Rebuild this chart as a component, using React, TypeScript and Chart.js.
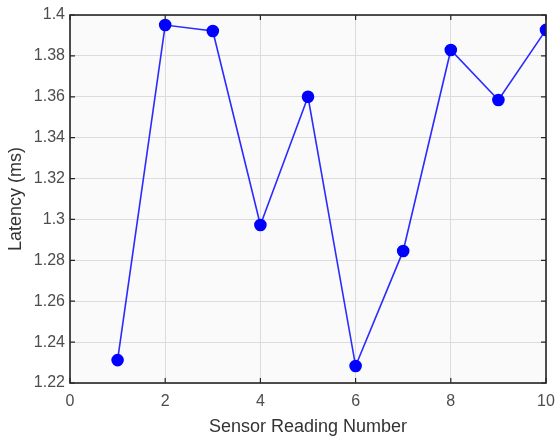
import React, { useEffect, useRef } from "react";
import { Chart, registerables } from "chart.js";

Chart.register(...registerables);

const readingNumbers = [1, 2, 3, 4, 5, 6, 7, 8, 9, 10];
const latencyMs = [1.2312, 1.3951, 1.3922, 1.2973, 1.36, 1.2283, 1.2846, 1.3829, 1.3584, 1.3927];
const xTicks = [0, 2, 4, 6, 8, 10];
const yTicks = [1.22, 1.24, 1.26, 1.28, 1.3, 1.32, 1.34, 1.36, 1.38, 1.4];

const FONT = "'Liberation Sans', Arial, sans-serif";

const boxPlugin = {
  id: "matlabBox",
  beforeDraw(chart: any) {
    const { ctx, chartArea: a } = chart;
    ctx.save();
    ctx.fillStyle = "#fafafa";
    ctx.fillRect(a.left, a.top, a.right - a.left, a.bottom - a.top);
    ctx.restore();
  },
  afterDatasetsDraw(chart: any) {
    const { ctx, chartArea: a, scales } = chart;
    ctx.save();
    ctx.strokeStyle = "#262626";
    ctx.lineWidth = 1.6;
    ctx.strokeRect(a.left, a.top, a.right - a.left, a.bottom - a.top);
    const len = 5;
    ctx.lineWidth = 1.2;
    ctx.beginPath();
    for (const v of xTicks) {
      const px = scales.x.getPixelForValue(v);
      ctx.moveTo(px, a.bottom);
      ctx.lineTo(px, a.bottom - len);
      ctx.moveTo(px, a.top);
      ctx.lineTo(px, a.top + len);
    }
    for (const v of yTicks) {
      const py = scales.y.getPixelForValue(v);
      ctx.moveTo(a.left, py);
      ctx.lineTo(a.left + len, py);
      ctx.moveTo(a.right, py);
      ctx.lineTo(a.right - len, py);
    }
    ctx.stroke();
    ctx.restore();
  },
};

export default function App() {
  const ref = useRef<HTMLCanvasElement | null>(null);
  useEffect(() => {
    if (!ref.current) return;
    const chart = new Chart(ref.current, {
      type: "line",
      data: {
        datasets: [
          {
            data: readingNumbers.map((x, i) => ({ x, y: latencyMs[i] })),
            borderColor: "#2b2bff",
            backgroundColor: "#0000ff",
            pointBackgroundColor: "#0000ff",
            pointBorderColor: "#0000ff",
            borderWidth: 1.6,
            pointRadius: 5.5,
            pointHoverRadius: 5.5,
            tension: 0,
            fill: false,
          },
        ],
      },
      options: {
        animation: false,
        responsive: false,
        maintainAspectRatio: false,
        layout: { padding: { left: 0, right: 9, top: 15, bottom: 0 } },
        plugins: { legend: { display: false }, tooltip: { enabled: false } },
        scales: {
          x: {
            type: "linear",
            min: 0,
            max: 10,
            afterBuildTicks: (s: any) => {
              s.ticks = xTicks.map((v) => ({ value: v }));
            },
            afterFit: (s: any) => {
              s.height = 55;
              s.paddingLeft = 0;
              s.paddingRight = 0;
            },
            grid: { color: "#dcdcdc", lineWidth: 1, drawTicks: false },
            border: { display: false },
            ticks: {
              padding: 9,
              color: "#4d4d4d",
              font: { family: FONT, size: 16 },
              maxRotation: 0,
              autoSkip: false,
              callback: (v: any) => String(v),
            },
            title: {
              display: true,
              text: "Sensor Reading Number",
              color: "#333333",
              font: { family: FONT, size: 18 },
              padding: { top: 0, bottom: 0 },
            },
          },
          y: {
            type: "linear",
            min: 1.22,
            max: 1.4,
            afterBuildTicks: (s: any) => {
              s.ticks = yTicks.map((v) => ({ value: v }));
            },
            afterFit: (s: any) => {
              s.width = 70;
              s.paddingTop = 0;
              s.paddingBottom = 0;
            },
            grid: { color: "#dcdcdc", lineWidth: 1, drawTicks: false },
            border: { display: false },
            ticks: {
              padding: 5,
              color: "#4d4d4d",
              font: { family: FONT, size: 16 },
              autoSkip: false,
              callback: (v: any) => String(Number(Number(v).toFixed(2))),
            },
            title: {
              display: true,
              text: "Latency (ms)",
              color: "#333333",
              font: { family: FONT, size: 18 },
              padding: { top: 5, bottom: 0 },
            },
          },
        },
      },
      plugins: [boxPlugin],
    });
    return () => chart.destroy();
  }, []);
  return (
    <div style={{ position: "absolute", left: 0, top: 0, width: 555, height: 438, background: "#ffffff" }}>
      <canvas ref={ref} width={555} height={438} style={{ width: 555, height: 438, display: "block" }} />
    </div>
  );
}
